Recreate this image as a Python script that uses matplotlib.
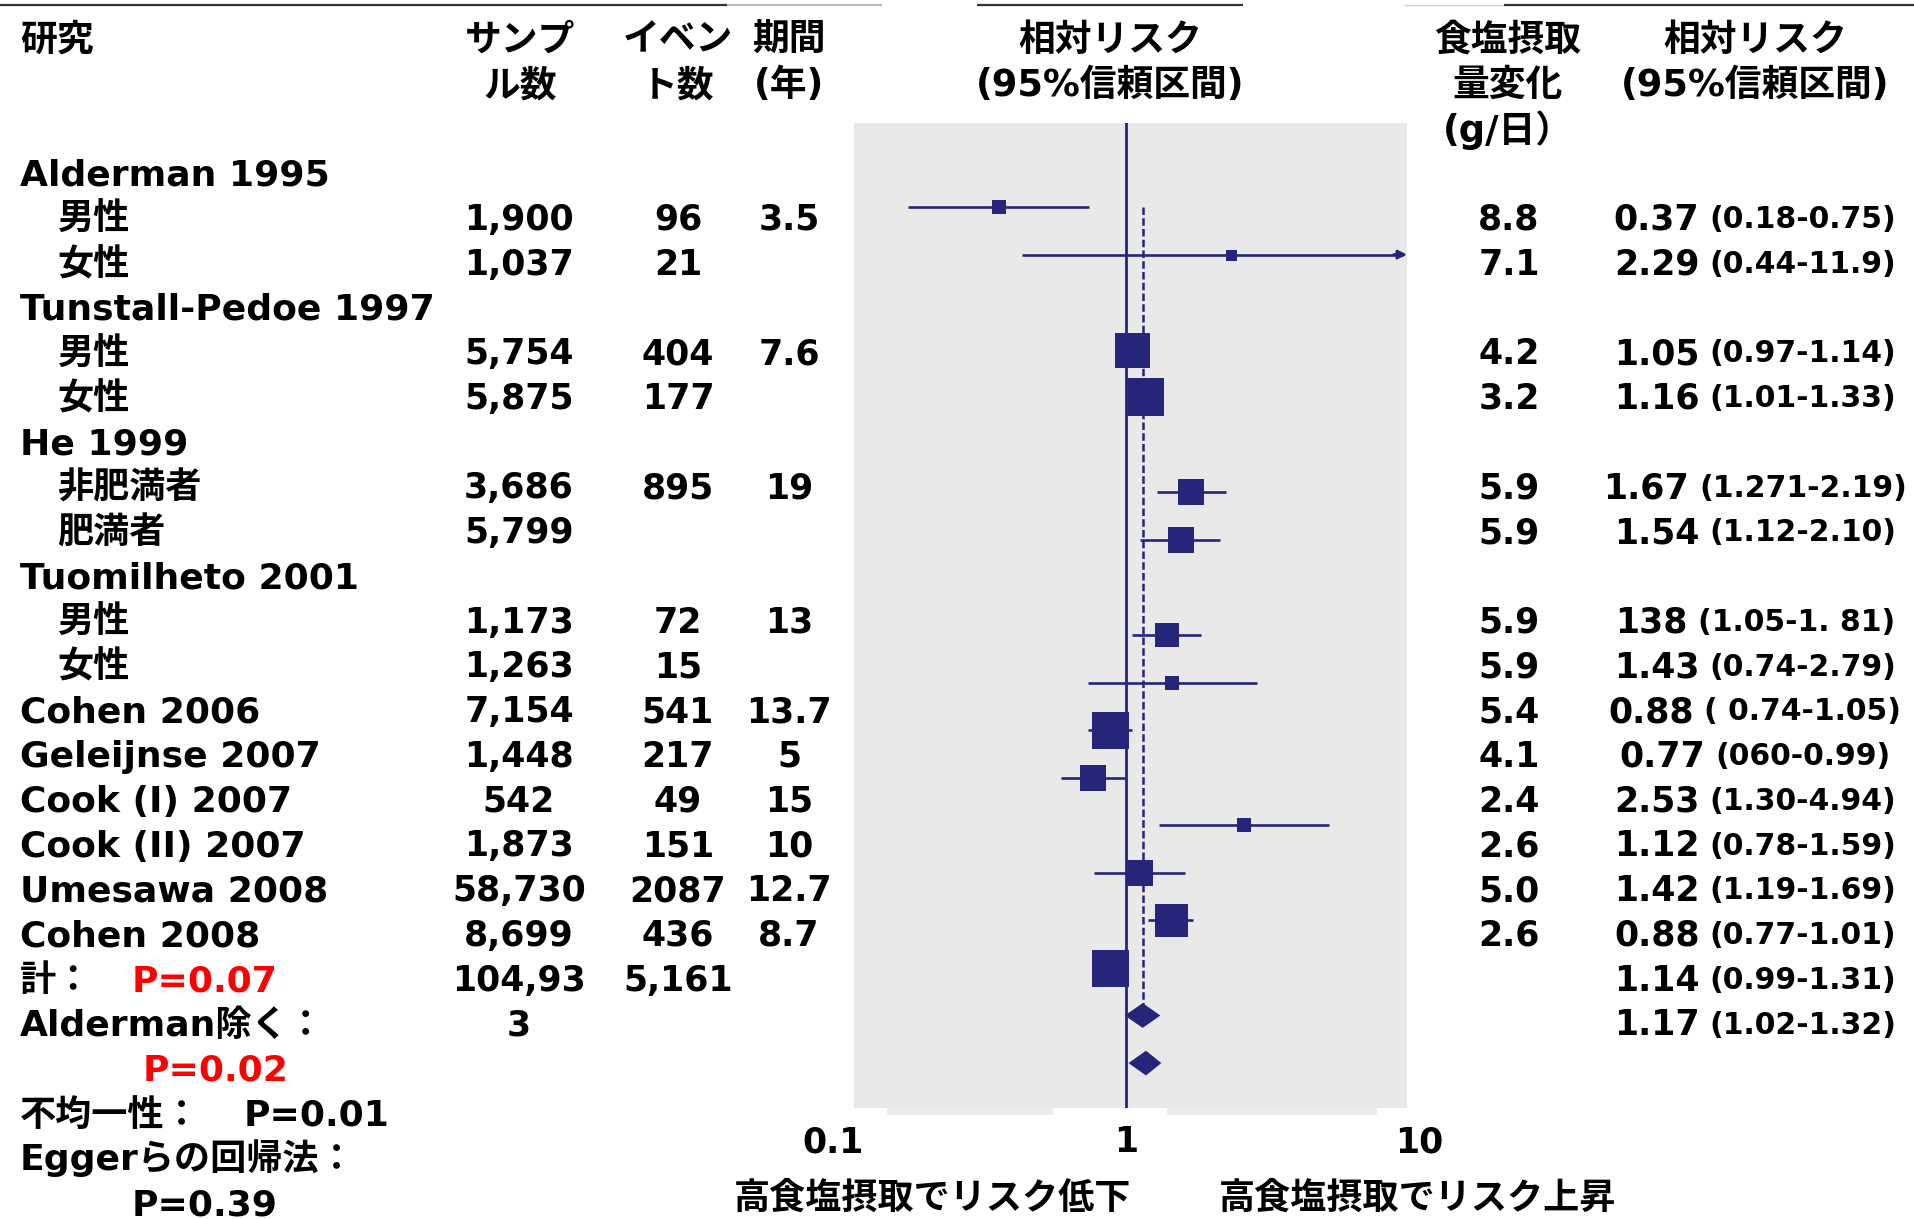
import matplotlib
matplotlib.use('Agg')
import matplotlib.pyplot as plt
from matplotlib.patches import Polygon, Rectangle

plt.rcParams['font.family'] = ['DejaVu Sans', 'Noto Sans CJK JP']
plt.rcParams['font.weight'] = 'bold'

# ── データ ──────────────────────────────────────────────────────────────
row_labels = ['Alderman 1995', '男性', '女性',
              'Tunstall-Pedoe 1997', '男性', '女性',
              'He 1999', '非肥満者', '肥満者',
              'Tuomilheto 2001', '男性', '女性',
              'Cohen 2006', 'Geleijnse 2007', 'Cook (I) 2007',
              'Cook (II) 2007', 'Umesawa 2008', 'Cohen 2008']
sub_labels = {'男性', '女性', '非肥満者', '肥満者'}

samples = ['', '1,900', '1,037', '', '5,754', '5,875', '', '3,686', '5,799',
           '', '1,173', '1,263', '7,154', '1,448', '542', '1,873', '58,730', '8,699']
events = ['', '96', '21', '', '404', '177', '', '895', '',
          '', '72', '15', '541', '217', '49', '151', '2087', '436']
years = ['', '3.5', '', '', '7.6', '', '', '19', '',
         '', '13', '', '13.7', '5', '15', '10', '12.7', '8.7']
salt = ['', '8.8', '7.1', '', '4.2', '3.2', '', '5.9', '5.9',
        '', '5.9', '5.9', '5.4', '4.1', '2.4', '2.6', '5.0', '2.6']

# 個別研究（プロット行番号は row_labels の位置）
study_rows = [1, 2, 4, 5, 7, 8, 10, 11, 12, 13, 14, 15, 16, 17]
rr_text = ['0.37', '2.29', '1.05', '1.16', '1.67', '1.54', '138', '1.43',
           '0.88', '0.77', '2.53', '1.12', '1.42', '0.88']
ci_text = ['(0.18-0.75)', '(0.44-11.9)', '(0.97-1.14)', '(1.01-1.33)',
           '(1.271-2.19)', '(1.12-2.10)', '(1.05-1. 81)', '(0.74-2.79)',
           '( 0.74-1.05)', '(060-0.99)', '(1.30-4.94)', '(0.78-1.59)',
           '(1.19-1.69)', '(0.77-1.01)']
rr = [0.37, 2.29, 1.05, 1.16, 1.67, 1.54, 1.38, 1.43, 0.88, 0.77, 2.53, 1.12, 1.42, 0.88]
rr_lo = [0.18, 0.44, 0.97, 1.01, 1.271, 1.12, 1.05, 0.74, 0.74, 0.60, 1.30, 0.78, 1.19, 0.77]
rr_hi = [0.75, 11.9, 1.14, 1.33, 2.19, 2.10, 1.81, 2.79, 1.05, 0.99, 4.94, 1.59, 1.69, 1.01]
box_weight = [1.4, 1.1, 3.5, 3.75, 2.7, 2.7, 2.45, 1.35, 3.7, 2.7, 1.35, 2.7, 3.3, 3.7]

# 統合結果
pooled_rows = [18, 19]
pooled_rr_text = ['1.14', '1.17']
pooled_ci_text = ['(0.99-1.31)', '(1.02-1.32)']
pooled_rr = [1.14, 1.17]
pooled_lo = [0.99, 1.02]
pooled_hi = [1.31, 1.32]
total_sample_lines = ['104,93', '3']
total_events = '5,161'

xtick_vals = [0.1, 1, 10]
xtick_labels = ['0.1', '1', '10']

# ── レイアウト（ピクセル） ──────────────────────────────────────────────
W, H = 1915, 1219
NAVY = '#25257a'
RED = '#ff0000'
FS = 26            # 本文
FS_NUM = 25
FS_CI = 21.5
FS_HEAD = 26.5

ROW_Y0, ROW_DY = 172.2, 44.76         # テキスト行
PLOT_Y0, PLOT_DY = 207.0, 47.56       # プロット行（row 1 基準）
PANEL_TOP, PANEL_BOTTOM = 123, 1108
X_01, X_10 = 833, 1419                # 0.1 と 10 の位置
PANEL_X = (0.118, 9.1)


def row_y(i):
    return ROW_Y0 + ROW_DY * i


def base(y, size):
    # 行中心 -> ベースライン
    return y + 0.37 * size * 100 / 72


fig = plt.figure(figsize=(W / 100, H / 100), dpi=100)
fig.patch.set_facecolor('white')
bg = fig.add_axes([0, 0, 1, 1])
bg.set_xlim(0, W)
bg.set_ylim(H, 0)
bg.axis('off')
bg.patch.set_alpha(0)


def put(x, y, s, size=FS, ha='left', color='black'):
    return bg.text(x, base(y, size), s, fontsize=size, ha=ha, va='baseline',
                   color=color, fontweight='bold')


# 上部の罫線
for x0, x1, c, lw in [(0, 727, '#333333', 1.6), (727, 882, '#aaaaaa', 1.2),
                      (977, 1243, '#333333', 1.6), (1404, 1504, '#cccccc', 1.0),
                      (1504, W, '#333333', 1.6)]:
    bg.plot([x0, x1], [5, 5], color=c, lw=lw, solid_capstyle='butt')

# 見出し
heads = [
    (20, ['研究'], 'left'),
    (520, ['サンプ', 'ル数'], 'center'),
    (678, ['イベン', 'ト数'], 'center'),
    (789, ['期間', '(年)'], 'center'),
    (1110, ['相対リスク', '(95%信頼区間)'], 'center'),
    (1508, ['食塩摂取', '量変化', '(g/日）'], 'center'),
    (1755, ['相対リスク', '(95%信頼区間)'], 'center'),
]
for x, lines, ha in heads:
    for k, s in enumerate(lines):
        put(x, 37 + 45.5 * k, s, size=FS_HEAD, ha=ha)

# 研究名と数値列
for i, lab in enumerate(row_labels):
    y = row_y(i)
    put(57 if lab in sub_labels else 20, y, lab)
    put(519, y, samples[i], size=FS_NUM, ha='center')
    put(678, y, events[i], size=FS_NUM, ha='center')
    put(789, y, years[i], size=FS_NUM, ha='center')
    put(1509, y, salt[i], size=FS_NUM, ha='center')

# 相対リスク列（大きな値 + 小さな信頼区間、全体を中央揃え）
renderer = fig.canvas.get_renderer()
rr_rows = study_rows + pooled_rows
for r, big, small in zip(rr_rows, rr_text + pooled_rr_text, ci_text + pooled_ci_text):
    y = row_y(r)
    t1 = put(0, y, big, size=FS_NUM)
    t2 = put(0, y, small, size=FS_CI)
    w1 = t1.get_window_extent(renderer).width
    w2 = t2.get_window_extent(renderer).width
    gap = 10
    left = 1755 - (w1 + gap + w2) / 2
    t1.set_x(left)
    t2.set_x(left + w1 + gap)

# 集計行
put(20, row_y(18), '計：')
put(132, row_y(18), 'P=0.07', color=RED)
for k, s in enumerate(total_sample_lines):
    put(519, row_y(18 + k), s, size=FS_NUM, ha='center')
put(678, row_y(18), total_events, size=FS_NUM, ha='center')
put(20, row_y(19), 'Alderman除く：')
put(143, row_y(20), 'P=0.02', color=RED)
put(20, row_y(21), '不均一性：')
put(244, row_y(21), 'P=0.01')
put(20, row_y(22), 'Eggerらの回帰法：')
put(132, row_y(23), 'P=0.39')

put(933, 1195, '高食塩摂取でリスク低下', size=26, ha='center')
put(1418, 1195, '高食塩摂取でリスク上昇', size=26, ha='center')

# パネル下の細い帯
for x0, x1 in [(887, 1053), (1167, 1377)]:
    bg.add_patch(Rectangle((x0, PANEL_BOTTOM), x1 - x0, 7, color='#ececec', lw=0))

# ── フォレストプロット ───────────────────────────────────────────────────
ax = fig.add_axes([X_01 / W, 1 - PANEL_BOTTOM / H, (X_10 - X_01) / W,
                   (PANEL_BOTTOM - PANEL_TOP) / H])
ax.set_xscale('log')
ax.set_xlim(0.1, 10)
ylo = 1 + (PANEL_TOP - PLOT_Y0) / PLOT_DY
yhi = 1 + (PANEL_BOTTOM - PLOT_Y0) / PLOT_DY
ax.set_ylim(yhi, ylo)
ax.patch.set_alpha(0)
for sp in ax.spines.values():
    sp.set_visible(False)
ax.set_yticks([])
ax.set_xticks(xtick_vals)
ax.set_xticklabels(xtick_labels, fontsize=FS_NUM, fontweight='bold')
ax.xaxis.set_minor_locator(matplotlib.ticker.NullLocator())
ax.tick_params(axis='x', length=0, pad=12.5)

ax.axvspan(PANEL_X[0], PANEL_X[1], color='#e9e9e9', lw=0, zorder=0)
ax.axvline(1, color=NAVY, lw=2.0, zorder=2)
ax.vlines(pooled_rr[0], study_rows[0], pooled_rows[0] - 0.25, color=NAVY,
          lw=1.8, linestyles=(0, (3, 1.3)), zorder=2)

for r, m, lo, hi, wt in zip(study_rows, rr, rr_lo, rr_hi, box_weight):
    if hi > PANEL_X[1]:
        ax.hlines(r, lo, PANEL_X[1] * 0.97, color=NAVY, lw=1.9, zorder=3)
        ax.annotate('', xy=(PANEL_X[1], r), xytext=(PANEL_X[1] * 0.9, r),
                    arrowprops=dict(arrowstyle='-|>', color=NAVY, lw=1.9,
                                    mutation_scale=13, shrinkA=0, shrinkB=0),
                    zorder=3)
    else:
        ax.hlines(r, lo, hi, color=NAVY, lw=1.9, zorder=3)
    ax.plot([m], [r], marker='s', markersize=wt * 10 * 0.72, mew=0,
            color=NAVY, linestyle='none', zorder=4)

for r, m, lo, hi in zip(pooled_rows, pooled_rr, pooled_lo, pooled_hi):
    h = 0.26
    ax.add_patch(Polygon([(lo, r), (m, r - h), (hi, r), (m, r + h)],
                         closed=True, color=NAVY, lw=0, zorder=4))

fig.savefig('out.png', dpi=100, facecolor='white')
